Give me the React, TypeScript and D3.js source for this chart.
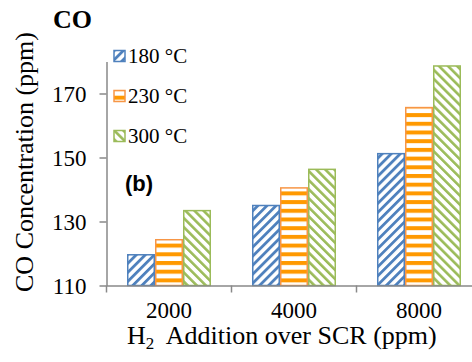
import React, { useEffect, useRef } from "react";
import * as d3 from "d3";

const categories = ["2000", "4000", "8000"];
const seriesNames = ["180 °C", "230 °C", "300 °C"];
const values180 = [119.6, 135.0, 151.2];
const values230 = [124.3, 140.5, 165.6];
const values300 = [133.4, 146.3, 178.6];
const yTicks = [110, 130, 150, 170];

const W = 472;
const H = 362;
const serif = "'Times New Roman', 'Liberation Serif', serif";

export default function App() {
  const ref = useRef<SVGSVGElement>(null);

  useEffect(() => {
    const svg = d3.select(ref.current);
    svg.selectAll("*").remove();

    const series = [values180, values230, values300];
    const strokes = ["#4F81BD", "#F79646", "#9BBB59"];
    const fills = ["#4F81BD", "#FF9900", "#9BBB59"];
    const patIds = ["pat180", "pat230", "pat300"];

    const defs = svg.append("defs");
    // wide upward diagonal
    const p0 = defs.append("pattern").attr("id", patIds[0])
      .attr("patternUnits", "userSpaceOnUse").attr("width", 6.4).attr("height", 6.4)
      .attr("patternTransform", "rotate(45)");
    p0.append("rect").attr("width", 6.4).attr("height", 6.4).attr("fill", "#fff");
    p0.append("rect").attr("width", 2.8).attr("height", 6.4).attr("fill", fills[0]);
    // wide horizontal
    const p1 = defs.append("pattern").attr("id", patIds[1])
      .attr("patternUnits", "userSpaceOnUse").attr("width", 8.7).attr("height", 8.7);
    p1.append("rect").attr("width", 8.7).attr("height", 8.7).attr("fill", "#fff");
    p1.append("rect").attr("width", 8.7).attr("height", 4).attr("fill", fills[1]);
    // wide downward diagonal
    const p2 = defs.append("pattern").attr("id", patIds[2])
      .attr("patternUnits", "userSpaceOnUse").attr("width", 6.4).attr("height", 6.4)
      .attr("patternTransform", "rotate(-45)");
    p2.append("rect").attr("width", 6.4).attr("height", 6.4).attr("fill", "#fff");
    p2.append("rect").attr("width", 2.6).attr("height", 6.4).attr("fill", fills[2]);

    svg.append("rect").attr("width", W).attr("height", H).attr("fill", "#fff");

    const x = d3.scaleBand().domain(categories).range([106.5, 481.5]);
    const bw = x.bandwidth();
    const gap = bw * 0.328;
    const xs = d3.scaleBand<number>().domain([0, 1, 2]).range([gap / 2, bw - gap / 2]);
    const y = d3.scaleLinear().domain([110, 180]).range([285.5, 61.5]);

    // bars
    series.forEach((vals, si) => {
      svg.append("g").selectAll("rect").data(vals).enter().append("rect")
        .attr("x", (d, i) => x(categories[i])! + xs(si)! + 0.75)
        .attr("y", d => y(d))
        .attr("width", xs.bandwidth() - 1.5)
        .attr("height", d => y(110) - y(d))
        .attr("fill", `url(#${patIds[si]})`)
        .attr("stroke", strokes[si])
        .attr("stroke-width", 1.5);
    });

    const axisColor = "#898989";
    // y axis
    const ya = svg.append("g").attr("transform", "translate(106.5,0)")
      .call(d3.axisLeft(y).tickValues(yTicks).tickSize(7).tickSizeOuter(0).tickPadding(13));
    ya.select(".domain").attr("stroke", axisColor).attr("stroke-width", 1.5);
    ya.selectAll(".tick line").attr("stroke", axisColor).attr("stroke-width", 1.5);
    ya.selectAll(".tick text").attr("font-family", serif).attr("font-size", 23)
      .attr("fill", "#000").attr("dy", "0.33em");

    // x axis
    const xa = svg.append("g").attr("transform", "translate(0,285.5)")
      .call(d3.axisBottom(x).tickSize(0).tickSizeOuter(0).tickPadding(16));
    xa.select(".domain").attr("stroke", axisColor).attr("stroke-width", 1.5);
    xa.selectAll(".tick text").attr("font-family", serif).attr("font-size", 23).attr("fill", "#000");
    svg.append("g").selectAll("line").data(x.domain().concat(["end"])).enter().append("line")
      .attr("x1", (d, i) => 106.5 + i * bw).attr("x2", (d, i) => 106.5 + i * bw)
      .attr("y1", 285.5).attr("y2", 292.5)
      .attr("stroke", axisColor).attr("stroke-width", 1.5);

    // legend
    seriesNames.forEach((name, i) => {
      const cy = 56 + i * 40;
      svg.append("rect").attr("x", 114).attr("y", cy - 5.5).attr("width", 11).attr("height", 11)
        .attr("fill", `url(#${patIds[i]})`).attr("stroke", strokes[i]).attr("stroke-width", 1.5);
      svg.append("text").attr("x", 128).attr("y", cy + 7.3)
        .attr("font-family", serif).attr("font-size", 21).text(name);
    });

    // titles
    svg.append("text").attr("x", 53).attr("y", 28).attr("font-family", serif)
      .attr("font-size", 26).attr("font-weight", "bold").text("CO");
    svg.append("text").attr("x", 125).attr("y", 191).attr("font-family", "'Liberation Sans', Arial, sans-serif")
      .attr("font-size", 22).attr("font-weight", "bold").text("(b)");

    svg.append("text").attr("transform", "translate(33,162) rotate(-90)")
      .attr("text-anchor", "middle").attr("font-family", serif).attr("font-size", 26)
      .text("CO Concentration (ppm)");

    const xt = svg.append("text").attr("x", 127).attr("y", 343.5)
      .attr("font-family", serif).attr("font-size", 26).style("white-space", "pre");
    xt.append("tspan").text("H");
    xt.append("tspan").attr("font-size", 17).attr("dy", 5).text("2");
    xt.append("tspan").attr("dy", -5).text("  Addition over SCR (ppm)");
  }, []);

  return (
    <svg ref={ref} width={W} height={H}
      style={{ position: "absolute", left: 0, top: 0, display: "block" }} />
  );
}
